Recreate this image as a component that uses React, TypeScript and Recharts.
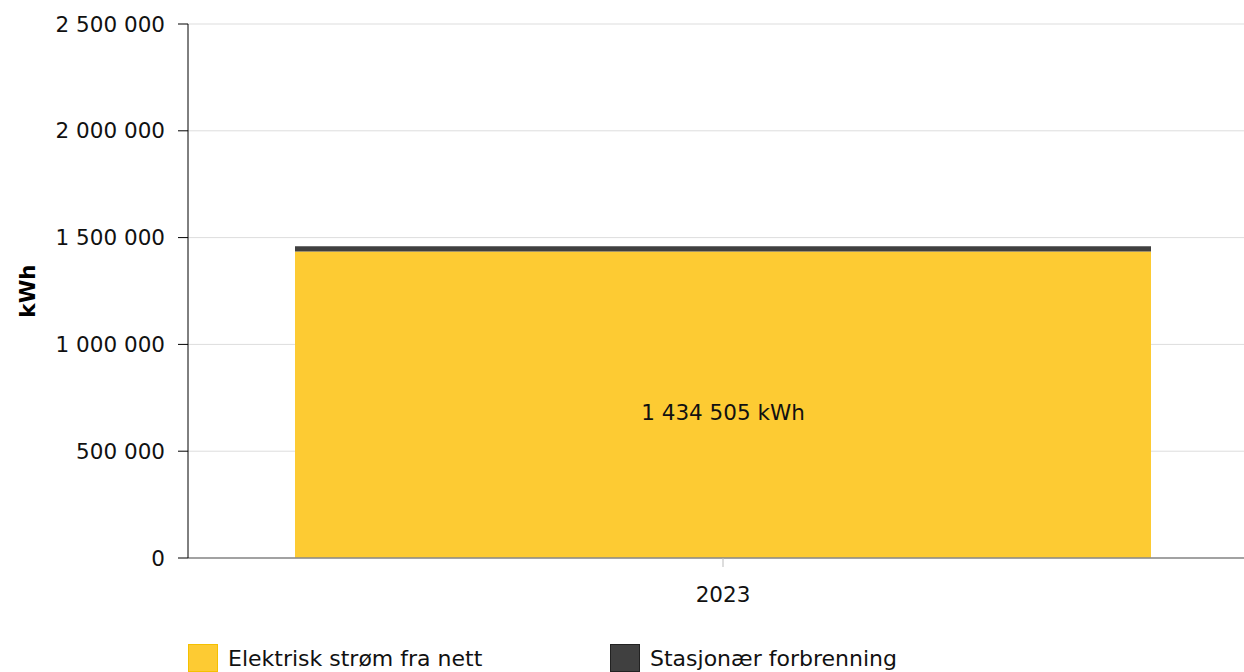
import React from 'react';
import { BarChart, Bar, XAxis, YAxis, CartesianGrid, Legend, LabelList } from 'recharts';

const categories = ['2023'];
const gridPower = [1434505];
const stationaryCombustion = [25000];
const yTicks = [0, 500000, 1000000, 1500000, 2000000, 2500000];
const seriesNames = ['Elektrisk strøm fra nett', 'Stasjonær forbrenning'];
const seriesColors = ['#FDCB33', '#404040'];

const data = categories.map((c, i) => ({
  year: c,
  grid: gridPower[i],
  comb: stationaryCombustion[i],
}));

const fmt = (v: number) => String(Math.round(v)).replace(/\B(?=(\d{3})+(?!\d))/g, ' ');

const FONT = '"DejaVu Sans", Verdana, sans-serif';

const LegendContent = () => (
  <div style={{ position: 'relative', height: 28, fontFamily: FONT }}>
    {seriesNames.map((n, i) => (
      <div key={n} style={{ position: 'absolute', left: 188 + i * 422, top: 0, display: 'flex', alignItems: 'center' }}>
        <div style={{ width: 30, height: 28, background: seriesColors[i], border: '1px solid ' + (i === 0 ? '#f5c000' : '#222'), boxSizing: 'border-box' }} />
        <span style={{ marginLeft: 10, fontSize: 22, color: '#111' }}>{n}</span>
      </div>
    ))}
  </div>
);

const CenterLabel = (props: any) => {
  const { x, y, width, height, value } = props;
  return (
    <text x={x + width / 2} y={y + height / 2 + 8} textAnchor="middle" dominantBaseline="central" fill="#111" fontSize={21.5} fontFamily={FONT}>
      {fmt(value) + ' kWh'}
    </text>
  );
};

export default function App() {
  return (
    <div style={{ position: 'absolute', left: 0, top: 0, width: 1244, height: 672, background: '#fff', overflow: 'hidden' }}>
      <BarChart
        width={1258}
        height={672}
        data={data}
        margin={{ top: 24, right: 0, left: 0, bottom: 0 }}
        barCategoryGap="10%"
        style={{ fontFamily: FONT }}
      >
        <CartesianGrid vertical={false} stroke="#dddddd" />
        <XAxis
          dataKey="year"
          height={86}
          tickSize={9}
          tickMargin={20}
          tick={{ fill: '#111', fontSize: 21.5 }}
          axisLine={{ stroke: '#888', strokeWidth: 1.5 }}
          tickLine={{ stroke: '#bbb' }}
        />
        <YAxis
          width={188}
          domain={[0, 2500000]}
          ticks={yTicks}
          interval={0}
          tickFormatter={fmt}
          tickSize={10}
          tickMargin={13}
          tick={{ fill: '#111', fontSize: 21.5 }}
          axisLine={{ stroke: '#000' }}
          tickLine={{ stroke: '#000' }}
          label={{ value: 'kWh', angle: -90, position: 'insideLeft', offset: 27, style: { fontWeight: 'bold', fontSize: 21.5, fill: '#000', textAnchor: 'middle' } }}
        />
        <Legend verticalAlign="bottom" align="left" height={28} content={<LegendContent />} wrapperStyle={{ left: 0, bottom: 0, width: 1244 }} />
        <Bar dataKey="grid" stackId="a" fill={seriesColors[0]} isAnimationActive={false}>
          <LabelList dataKey="grid" content={<CenterLabel />} />
        </Bar>
        <Bar dataKey="comb" stackId="a" fill={seriesColors[1]} isAnimationActive={false} />
      </BarChart>
    </div>
  );
}
